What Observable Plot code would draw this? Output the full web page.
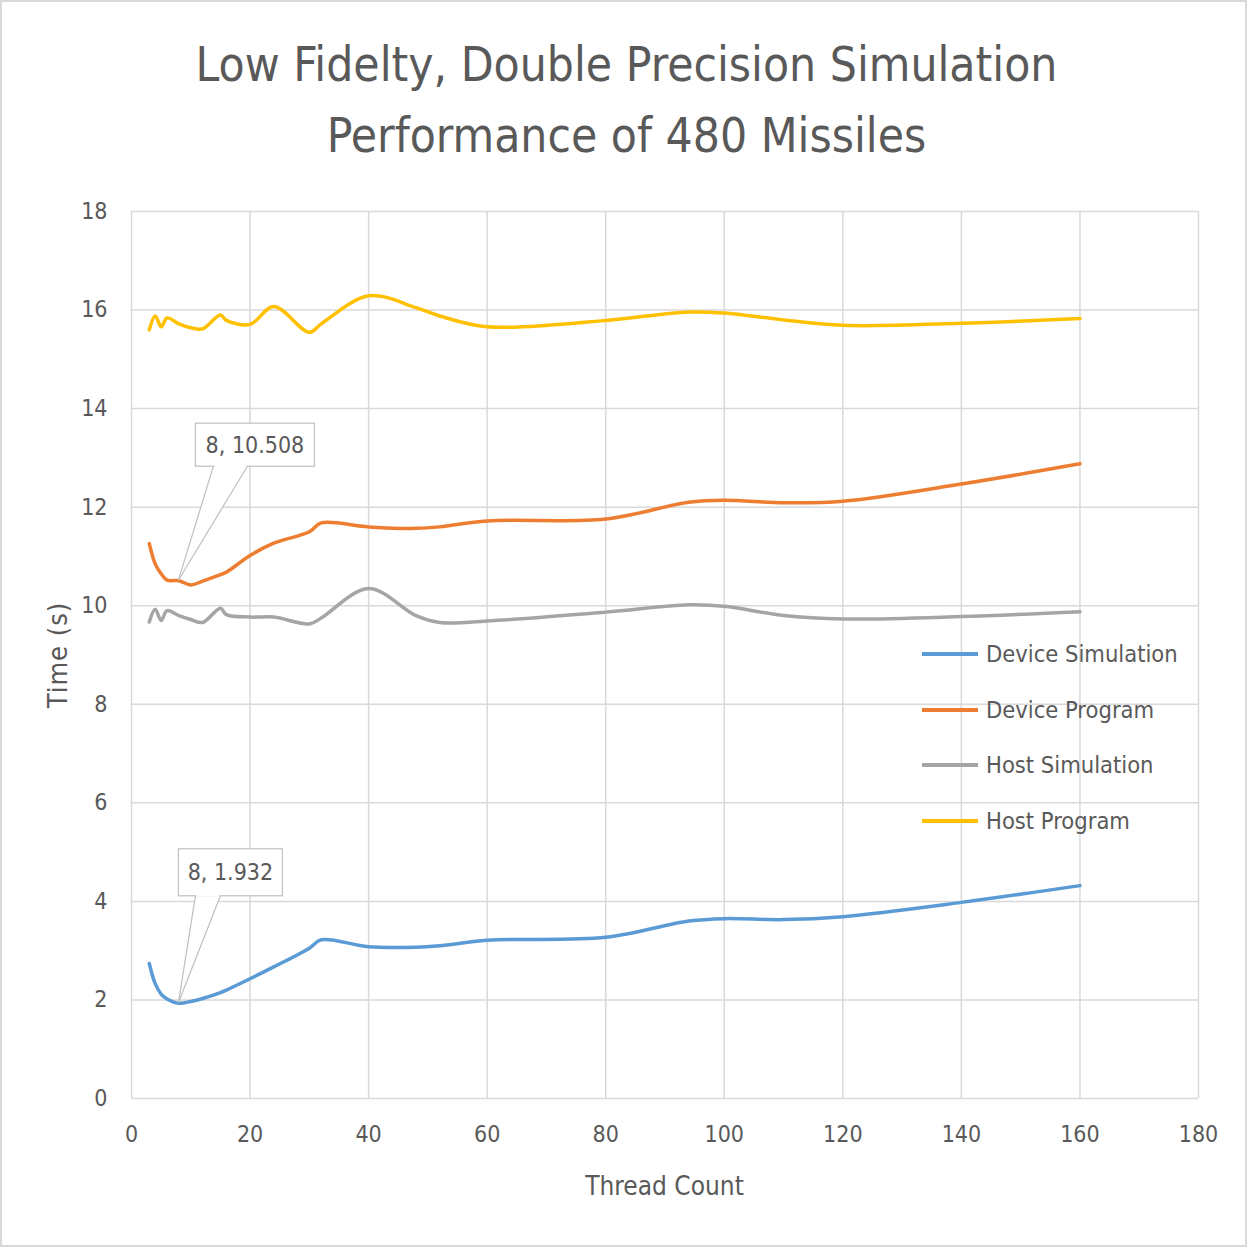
<!DOCTYPE html>
<html>
<head>
<meta charset="utf-8">
<script src="https://cdn.jsdelivr.net/npm/d3@7"></script>
<script src="https://cdn.jsdelivr.net/npm/@observablehq/plot@0.6"></script>
<style>
  body { margin: 0; background: #fff; }
  #page {
    position: relative; width: 1247px; height: 1247px; overflow: hidden; background: #fff;
    font-family: "Liberation Sans Narrow", "DejaVu Sans Condensed", "Open Sans", sans-serif;
    color: #595959;
  }
  #frame { position: absolute; left: 0; top: 0; width: 1247px; height: 1247px; box-sizing: border-box;
           border: 2px solid #d9d9d9; pointer-events: none; }
  #title { position: absolute; left: 0; top: 29px; width: 1253px; text-align: center;
           font-size: 47.5px; line-height: 71px; }
  #chart { position: absolute; left: 0; top: 180px; }
  #xlabel { position: absolute; left: 131px; width: 1067px; top: 1171px; text-align: center; font-size: 26px; }
  #ylabel { position: absolute; left: 57px; top: 655px; transform: translate(-50%, -50%) rotate(-90deg);
            font-size: 27px; white-space: nowrap; letter-spacing: 1px; }
  #legend { position: absolute; left: 922px; top: 626px; }
  .item { display: flex; align-items: center; height: 55.7px; font-size: 23.5px; white-space: nowrap; }
  .swatch { width: 56px; height: 4px; margin-right: 8px; }
</style>
</head>
<body>
<div id="page">
  <div id="title">Low Fidelty, Double Precision Simulation<br>Performance of 480 Missiles</div>
  <div id="chart"></div>
  <div id="xlabel">Thread Count</div>
  <div id="ylabel">Time (s)</div>
  <div id="legend"></div>
  <div id="frame"></div>
</div>
<script>
// Thread counts and measured times (seconds) for each run
const threads = [3, 4, 5, 6, 8, 10, 12, 15, 16, 20, 24, 30, 32, 40, 48, 52, 60, 80, 94, 100, 110, 120, 140, 160];
const deviceSimulation = [2.74, 2.33, 2.12, 2.02, 1.932, 1.97, 2.03, 2.15, 2.2, 2.43, 2.67, 3.05, 3.22, 3.08, 3.07, 3.1, 3.21, 3.27, 3.6, 3.65, 3.63, 3.69, 3.98, 4.32];
const deviceProgram    = [11.26, 10.85, 10.65, 10.52, 10.508, 10.42, 10.5, 10.63, 10.68, 11.02, 11.27, 11.5, 11.68, 11.6, 11.57, 11.6, 11.72, 11.76, 12.1, 12.14, 12.09, 12.12, 12.47, 12.88];
const hostSimulation   = [9.67, 9.93, 9.7, 9.9, 9.8, 9.72, 9.66, 9.95, 9.82, 9.77, 9.77, 9.63, 9.75, 10.35, 9.8, 9.66, 9.69, 9.87, 10.02, 9.99, 9.8, 9.73, 9.78, 9.88];
const hostProgram      = [15.6, 15.88, 15.66, 15.84, 15.72, 15.64, 15.62, 15.9, 15.79, 15.71, 16.07, 15.55, 15.72, 16.29, 16.05, 15.88, 15.66, 15.79, 15.96, 15.94, 15.8, 15.69, 15.73, 15.83];

const seriesNames = ["Device Simulation", "Device Program", "Host Simulation", "Host Program"];
const seriesValues = [deviceSimulation, deviceProgram, hostSimulation, hostProgram];
const seriesColors = ["#5B9BD5", "#ED7D31", "#A5A5A5", "#FFC000"];

const xTicks = [0, 20, 40, 60, 80, 100, 120, 140, 160, 180];
const yTicks = [0, 2, 4, 6, 8, 10, 12, 14, 16, 18];

// Data labels shown on the chart: [series index, thread count]
const labelled = [[1, 8], [0, 8]];
// Callout shape for each label, in pixels relative to the labelled point
const calloutShapes = [
  {left: 17, top: -157, width: 119, height: 43, base: [35, 69]},
  {left: 0, top: -154, width: 104, height: 47, base: [17, 42]}
];

const rows = seriesNames.flatMap((name, i) =>
  threads.map((t, j) => ({series: name, threads: t, time: seriesValues[i][j]})));

const fontStack = '"Liberation Sans Narrow", "DejaVu Sans Condensed", "Open Sans", sans-serif';

const chart = Plot.plot({
  width: 1247,
  height: 1067,
  marginLeft: 131,
  marginRight: 49,
  marginTop: 31,
  marginBottom: 149,
  style: {fontFamily: fontStack, fontSize: "23px", color: "#595959", background: "transparent", overflow: "visible"},
  x: {domain: [0, 180], ticks: xTicks, tickSize: 0, tickPadding: 27, label: null},
  y: {domain: [0, 18], ticks: yTicks, tickSize: 0, tickPadding: 24, label: null},
  color: {domain: seriesNames, range: seriesColors},
  marks: [
    Plot.ruleX(xTicks, {stroke: "#d9d9d9", strokeWidth: 1.5}),
    Plot.ruleY(yTicks, {stroke: "#d9d9d9", strokeWidth: 1.5}),
    Plot.line(rows, {x: "threads", y: "time", z: "series", stroke: "series",
                     curve: "catmull-rom", strokeWidth: 3.5, strokeLinejoin: "round", strokeLinecap: "round"})
  ]
});
document.getElementById("chart").appendChild(chart);

// Callout data labels
const sx = chart.scale("x"), sy = chart.scale("y");
const svg = d3.select(chart);
const g = svg.append("g");
labelled.forEach(([si, t], k) => {
  const v = seriesValues[si][threads.indexOf(t)];
  const px = sx.apply(t), py = sy.apply(v);
  const s = calloutShapes[k];
  const bx = px + s.left, by = py + s.top;
  // wedge pointing at the value
  g.append("path")
    .attr("d", `M${px + s.base[0]},${by + s.height}L${px},${py}L${px + s.base[1]},${by + s.height}Z`)
    .attr("fill", "#fff").attr("stroke", "#bfbfbf").attr("stroke-width", 1.2);
  g.append("rect")
    .attr("x", bx).attr("y", by).attr("width", s.width).attr("height", s.height)
    .attr("fill", "#fff").attr("stroke", "#bfbfbf").attr("stroke-width", 1.2);
  g.append("rect")
    .attr("x", px + s.base[0] + 1).attr("y", by + s.height - 2).attr("width", s.base[1] - s.base[0] - 2).attr("height", 3)
    .attr("fill", "#fff");
  g.append("text")
    .attr("x", bx + s.width / 2).attr("y", by + s.height / 2).attr("dy", "0.35em")
    .attr("text-anchor", "middle").attr("fill", "#595959")
    .attr("font-size", 23).attr("font-family", fontStack)
    .text(`${t}, ${v}`);
});

// Legend
const legend = d3.select("#legend");
seriesNames.forEach((name, i) => {
  const item = legend.append("div").attr("class", "item");
  item.append("div").attr("class", "swatch").style("background", seriesColors[i]);
  item.append("span").text(name);
});
</script>
</body>
</html>
